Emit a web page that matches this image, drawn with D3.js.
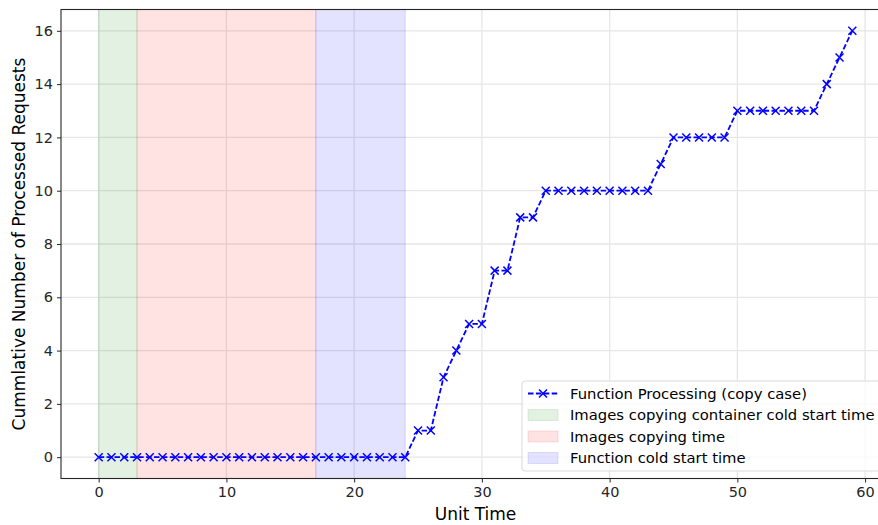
<!DOCTYPE html>
<html>
<head>
<meta charset="utf-8">
<script src="https://cdn.jsdelivr.net/npm/d3@7"></script>
<style>
  html, body { margin: 0; padding: 0; background: #fff; }
  svg { display: block; font-family: "DejaVu Sans", sans-serif; }
</style>
</head>
<body>
<svg id="chart" width="878" height="525"></svg>
<script>
// Cumulative processed requests per unit of time
const unitTime = d3.range(0, 60);
const processed = [
  0, 0, 0, 0, 0, 0, 0, 0, 0, 0,
  0, 0, 0, 0, 0, 0, 0, 0, 0, 0,
  0, 0, 0, 0, 0, 1, 1, 3, 4, 5,
  5, 7, 7, 9, 9, 10, 10, 10, 10, 10,
  10, 10, 10, 10, 11, 12, 12, 12, 12, 12,
  13, 13, 13, 13, 13, 13, 13, 14, 15, 16
];

// Shaded phases: [start, end]
const phaseLabels = [
  "Images copying container cold start time",
  "Images copying time",
  "Function cold start time"
];
const phaseStart = [0, 3, 17];
const phaseEnd = [3, 17, 24];
const phaseColors = ["green", "red", "blue"];

const seriesLabel = "Function Processing (copy case)";
const xTicks = [0, 10, 20, 30, 40, 50, 60];
const yTicks = [0, 2, 4, 6, 8, 10, 12, 14, 16];

const svg = d3.select("#chart");
const margin = { left: 61, top: 9.5, right: 890, bottom: 478.5 };

const x = d3.scaleLinear().domain([-2.95, 61.95]).range([margin.left, margin.right]);
const y = d3.scaleLinear().domain([-0.8, 16.8]).range([margin.bottom, margin.top]);

// grid
const grid = svg.append("g");
grid.selectAll("line.gx").data(xTicks).join("line")
  .attr("x1", d => x(d)).attr("x2", d => x(d))
  .attr("y1", margin.top).attr("y2", margin.bottom)
  .attr("stroke", "#e6e6e6").attr("stroke-width", 1.3);
grid.selectAll("line.gy").data(yTicks).join("line")
  .attr("y1", d => y(d)).attr("y2", d => y(d))
  .attr("x1", margin.left).attr("x2", margin.right)
  .attr("stroke", "#e6e6e6").attr("stroke-width", 1.3);

// phase spans
svg.append("g").selectAll("rect").data(phaseStart).join("rect")
  .attr("x", (d, i) => x(d))
  .attr("width", (d, i) => x(phaseEnd[i]) - x(d))
  .attr("y", margin.top)
  .attr("height", margin.bottom - margin.top)
  .attr("fill", (d, i) => phaseColors[i])
  .attr("fill-opacity", 0.11)
  .attr("stroke", (d, i) => phaseColors[i])
  .attr("stroke-opacity", 0.11)
  .attr("stroke-width", 1.2);

// series line
const pts = unitTime.map((t, i) => [t, processed[i]]);
svg.append("path")
  .datum(pts)
  .attr("fill", "none")
  .attr("stroke", "#0000ff")
  .attr("stroke-width", 1.8)
  .attr("stroke-dasharray", "5.5,2.4")
  .attr("d", d3.line().x(d => x(d[0])).y(d => y(d[1])));

// x markers
const m = 4;
const markers = svg.append("g").attr("stroke", "#0000ff").attr("stroke-width", 1.5);
markers.selectAll("path").data(pts).join("path")
  .attr("d", d => {
    const cx = x(d[0]), cy = y(d[1]);
    return `M${cx - m},${cy - m}L${cx + m},${cy + m}M${cx - m},${cy + m}L${cx + m},${cy - m}`;
  });

// axes
const xAxis = svg.append("g")
  .attr("transform", `translate(0,${margin.bottom})`)
  .call(d3.axisBottom(x).tickValues(xTicks).tickSize(4).tickPadding(4).tickFormat(d3.format("d")));
const yAxis = svg.append("g")
  .attr("transform", `translate(${margin.left},0)`)
  .call(d3.axisLeft(y).tickValues(yTicks).tickSize(4).tickPadding(4).tickFormat(d3.format("d")));
[xAxis, yAxis].forEach(a => {
  a.select(".domain").remove();
  a.selectAll("line").attr("stroke", "#262626").attr("stroke-width", 1);
  a.selectAll("text").attr("fill", "#262626").attr("font-size", 14.5)
    .attr("font-family", "DejaVu Sans");
});

// frame
svg.append("rect")
  .attr("x", margin.left).attr("y", margin.top)
  .attr("width", margin.right - margin.left).attr("height", margin.bottom - margin.top)
  .attr("fill", "none").attr("stroke", "#262626").attr("stroke-width", 1.1);

// axis labels
svg.append("text")
  .attr("x", (margin.left + margin.right) / 2).attr("y", 520)
  .attr("text-anchor", "middle").attr("font-size", 17).attr("fill", "#000")
  .text("Unit Time");
svg.append("text")
  .attr("transform", `translate(25,${(margin.top + margin.bottom) / 2}) rotate(-90)`)
  .attr("text-anchor", "middle").attr("font-size", 17).attr("fill", "#000")
  .text("Cummlative Number of Processed Requests");

// legend
const lg = svg.append("g").attr("transform", "translate(522,381)");
lg.append("rect")
  .attr("x", 0).attr("y", 0).attr("width", 380).attr("height", 90)
  .attr("rx", 3).attr("fill", "#fff").attr("fill-opacity", 0.8)
  .attr("stroke", "#d9d9d9").attr("stroke-width", 1);
const rowY = [12.5, 34, 55.5, 77];
const lineRow = lg.append("g").attr("transform", `translate(0,${rowY[0]})`);
lineRow.append("line").attr("x1", 6).attr("x2", 36).attr("y1", 0).attr("y2", 0)
  .attr("stroke", "#0000ff").attr("stroke-width", 1.8).attr("stroke-dasharray", "5.5,2.4");
lineRow.append("path")
  .attr("d", `M${21 - m},${-m}L${21 + m},${m}M${21 - m},${m}L${21 + m},${-m}`)
  .attr("stroke", "#0000ff").attr("stroke-width", 1.5);
lineRow.append("text").attr("x", 48).attr("y", 5).attr("font-size", 14.8).text(seriesLabel);
phaseLabels.forEach((lab, i) => {
  const r = lg.append("g").attr("transform", `translate(0,${rowY[i + 1]})`);
  r.append("rect").attr("x", 6).attr("y", -5.5).attr("width", 30).attr("height", 11)
    .attr("fill", phaseColors[i]).attr("fill-opacity", 0.11)
    .attr("stroke", phaseColors[i]).attr("stroke-opacity", 0.11);
  r.append("text").attr("x", 48).attr("y", 5).attr("font-size", 14.8).text(lab);
});
</script>
</body>
</html>
